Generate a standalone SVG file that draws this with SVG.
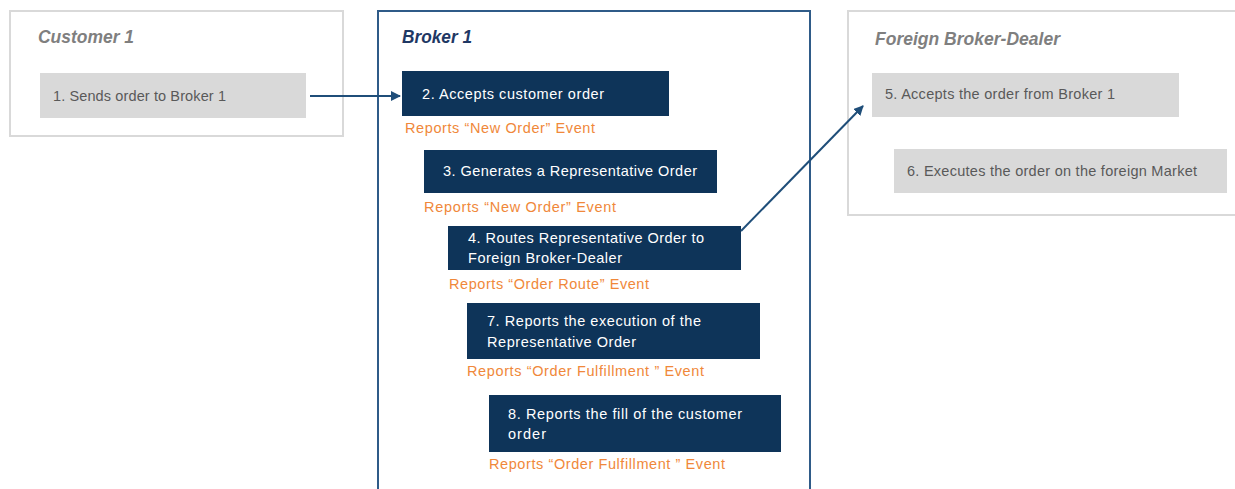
<svg xmlns="http://www.w3.org/2000/svg" width="1235" height="489" viewBox="0 0 1235 489">
<defs>
<marker id="ah" markerWidth="10" markerHeight="10" refX="9" refY="5" orient="auto" markerUnits="userSpaceOnUse">
<path d="M0,0 L10,5 L0,10 Z" fill="#1f4e79"/>
</marker>
<style>
.lane{fill:#ffffff;stroke:#d9d9d9;stroke-width:2}
.lane2{fill:#ffffff;stroke:#2f5b88;stroke-width:2}
.ttl{font-family:"Liberation Sans",Arial,sans-serif;font-size:17.5px;font-weight:bold;font-style:italic}
.gbox{fill:#d9d9d9}
.nbox{fill:#0e3459}
.gt{font-family:"Liberation Sans",Arial,sans-serif;font-size:14.5px;fill:#595959}
.wt{font-family:"Liberation Sans",Arial,sans-serif;font-size:14.5px;fill:#ffffff}
.ev{font-family:"Liberation Sans",Arial,sans-serif;font-size:14.5px;fill:#f0883a}
.conn{stroke:#1f4e79;stroke-width:2;fill:none}
</style>
</defs>
<rect width="1235" height="489" fill="#ffffff"/>
<g id="customer1">
<rect class="lane" x="10" y="11" width="333" height="125"/>
<text class="ttl" x="38" y="43" fill="#7f7f7f" textLength="96" lengthAdjust="spacingAndGlyphs">Customer 1</text>
</g>
<g id="broker1">
<rect class="lane2" x="378" y="11" width="432" height="490"/>
<text class="ttl" x="402" y="43" fill="#1f3864" textLength="70" lengthAdjust="spacingAndGlyphs">Broker 1</text>
</g>
<g id="foreign">
<rect class="lane" x="848" y="11" width="400" height="204"/>
<text class="ttl" x="875" y="45" fill="#7f7f7f" textLength="185" lengthAdjust="spacingAndGlyphs">Foreign Broker-Dealer</text>
</g>
<g id="n1">
<rect class="gbox" x="40" y="73" width="266" height="45"/>
<text class="gt" x="53" y="101" textLength="173">1. Sends order to Broker 1</text>
</g>
<g id="n2">
<rect class="nbox" x="402" y="71" width="267" height="45"/>
<text class="wt" x="422" y="99" textLength="182">2. Accepts customer order</text>
<text class="ev" x="405" y="133" textLength="190">Reports “New Order” Event</text>
</g>
<g id="n3">
<rect class="nbox" x="424" y="150" width="293" height="43"/>
<text class="wt" x="443" y="176" textLength="254">3. Generates a Representative Order</text>
<text class="ev" x="424" y="212" textLength="192">Reports “New Order” Event</text>
</g>
<g id="n4">
<rect class="nbox" x="448" y="226" width="293" height="44"/>
<text class="wt" x="468" y="243" textLength="236">4. Routes Representative Order to</text>
<text class="wt" x="468" y="263" textLength="154">Foreign Broker-Dealer</text>
<text class="ev" x="449" y="289" textLength="200">Reports “Order Route” Event</text>
</g>
<g id="n7">
<rect class="nbox" x="467" y="303" width="293" height="56"/>
<text class="wt" x="487" y="326" textLength="214">7. Reports the execution of the</text>
<text class="wt" x="487" y="347" textLength="149">Representative Order</text>
<text class="ev" x="467" y="376" textLength="237">Reports “Order Fulfillment ” Event</text>
</g>
<g id="n8">
<rect class="nbox" x="489" y="395" width="292" height="57"/>
<text class="wt" x="508" y="419" textLength="234">8. Reports the fill of the customer</text>
<text class="wt" x="508" y="439" textLength="38">order</text>
<text class="ev" x="489" y="469" textLength="236">Reports “Order Fulfillment ” Event</text>
</g>
<g id="n5">
<rect class="gbox" x="872" y="73" width="307" height="44"/>
<text class="gt" x="885" y="99" textLength="230">5. Accepts the order from Broker 1</text>
</g>
<g id="n6">
<rect class="gbox" x="894" y="149" width="333" height="44"/>
<text class="gt" x="907" y="176" textLength="290">6. Executes the order on the foreign Market</text>
</g>
<g id="connectors">
<line class="conn" x1="310" y1="96" x2="400" y2="96" marker-end="url(#ah)"/>
<line class="conn" x1="741" y1="231" x2="863" y2="106" marker-end="url(#ah)"/>
</g>
</svg>
